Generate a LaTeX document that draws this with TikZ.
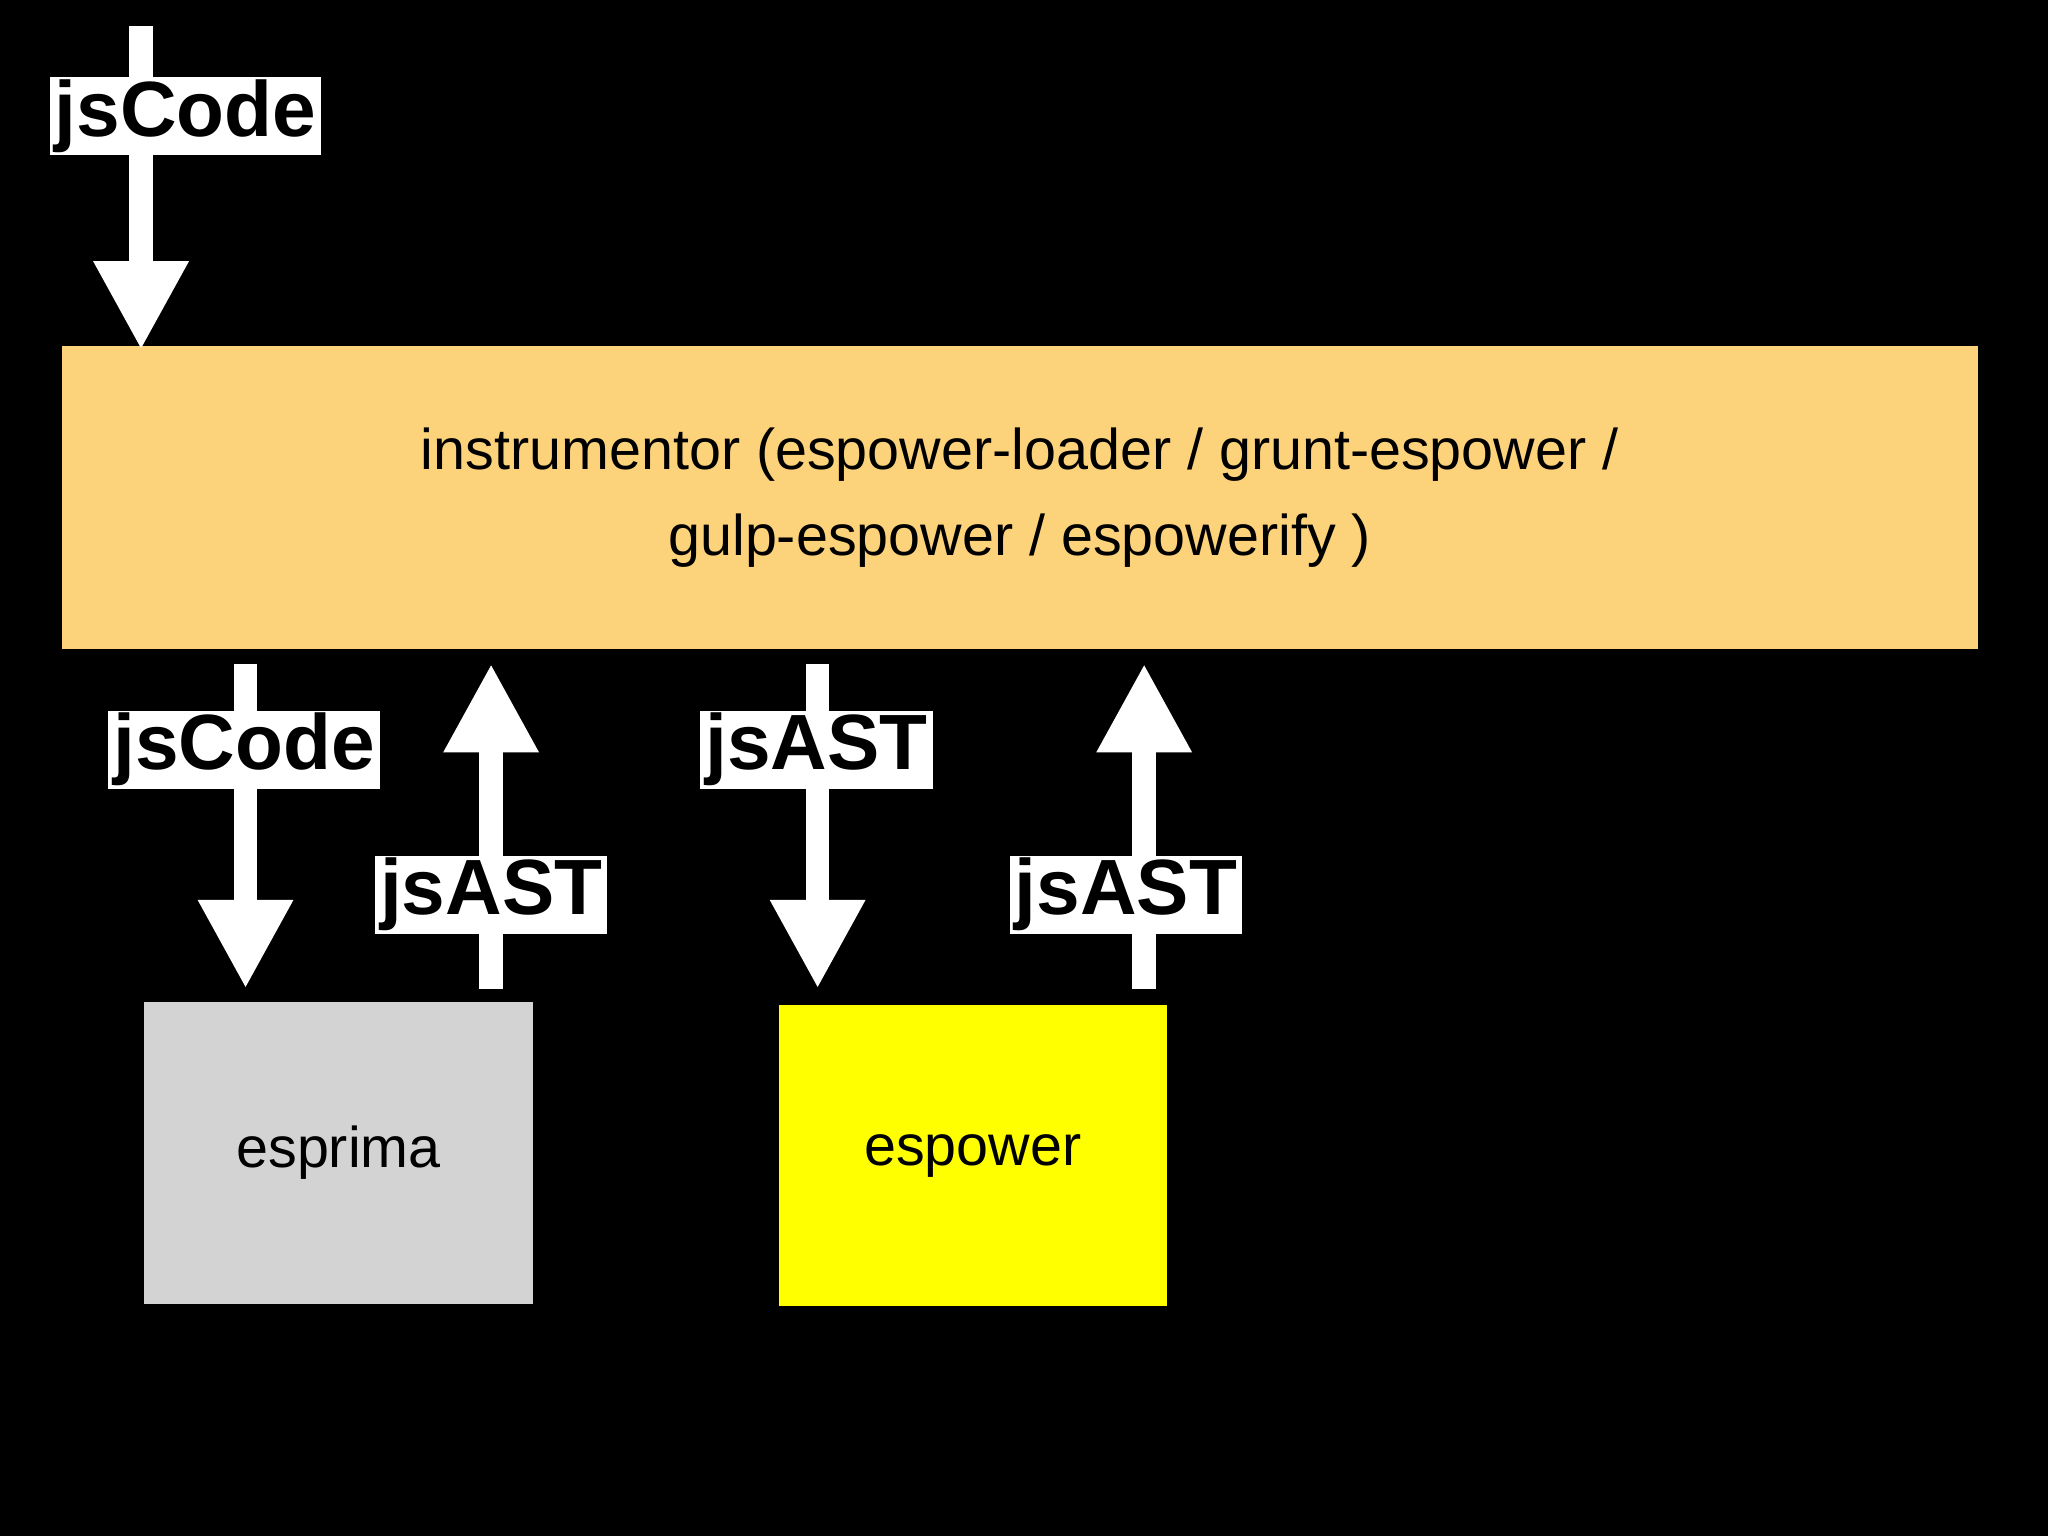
\documentclass[tikz,border=0pt]{standalone}
\usepackage{fontspec}
\setmainfont{Liberation Sans}
\usetikzlibrary{arrows.meta}
\begin{document}
\begin{tikzpicture}[x=1pt,y=-1pt,
  flow/.style={white,line width=18pt,-{Triangle[width=68pt,length=68pt]}},
  lbl/.style={fill=white,text=black,font=\fontsize{60}{60}\selectfont\bfseries,inner xsep=4pt,inner ysep=2pt},
  box/.style={draw=none,anchor=north west,font=\fontsize{44}{66}\selectfont,align=center}]
\fill[black] (0,0) rectangle (1568,1176);
\useasboundingbox (0,0) rectangle (1568,1176);
\node[box,fill={rgb,255:red,252;green,210;blue,122},minimum width=1467pt,minimum height=232pt] (instr) at (47,265)
  {instrumentor (espower-loader / grunt-espower /\\ gulp-espower / espowerify )};
\node[box,fill={rgb,255:red,211;green,211;blue,211},minimum width=298pt,minimum height=231pt] (esprima) at (110,767) {esprima};
\node[box,fill={rgb,255:red,255;green,255;blue,0},minimum width=297pt,minimum height=231pt] (espower) at (596,769) {espower};
\coordinate (s0) at (108,20); \coordinate (e0) at (108,268);
\coordinate (s1) at (188,508); \coordinate (e1) at (188,757);
\coordinate (s2) at (376,757); \coordinate (e2) at (376,508);
\coordinate (s3) at (626,508); \coordinate (e3) at (626,757);
\coordinate (s4) at (876,757); \coordinate (e4) at (876,508);
\draw[flow] (s0) -- (e0);
\draw[flow] (s1) -- (e1);
\draw[flow] (s2) -- (e2);
\draw[flow] (s3) -- (e3);
\draw[flow] (s4) -- (e4);
\node[lbl] (l0) at (142,89) {jsCode};
\node[lbl] (l1) at (187,574) {jsCode};
\node[lbl] (l2) at (376,685) {jsAST};
\node[lbl] (l3) at (625,574) {jsAST};
\node[lbl] (l4) at (862,685) {jsAST};
\end{tikzpicture}
\end{document}
